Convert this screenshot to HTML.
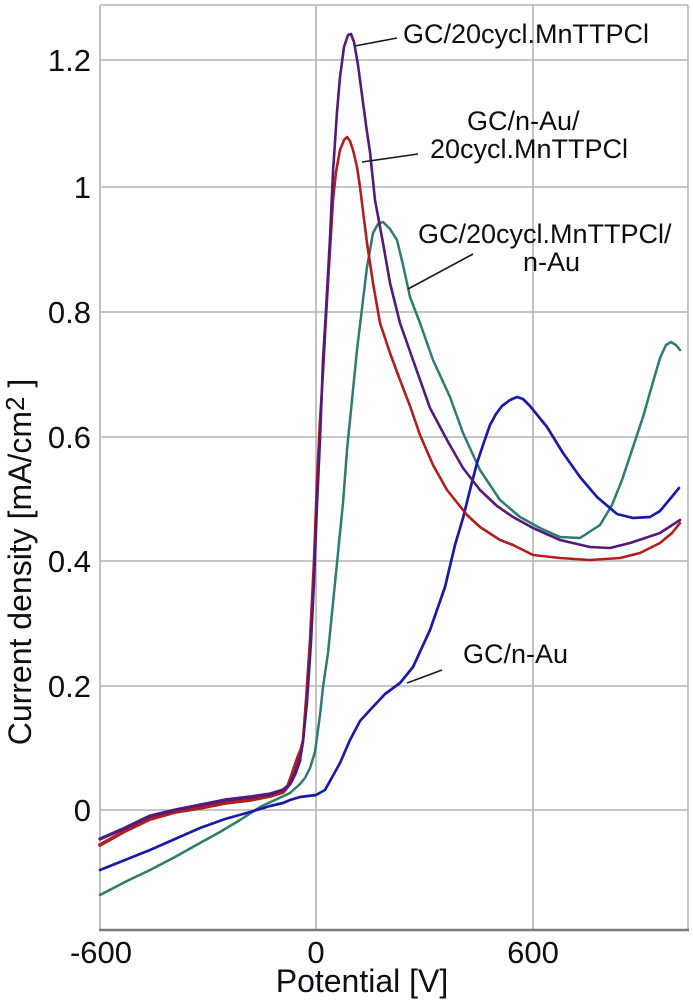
<!DOCTYPE html>
<html><head><meta charset="utf-8"><style>
html,body{margin:0;padding:0;background:#fff;}
svg{display:block;}
text{font-family:"Liberation Sans",Arial,sans-serif;fill:#0d0d14;}
</style></head><body>
<svg width="693" height="1000" viewBox="0 0 693 1000" xmlns="http://www.w3.org/2000/svg">
<rect width="693" height="1000" fill="#fff"/>
<!-- grid -->
<g stroke="#b4b4b4" stroke-width="1.6" fill="none">
<line x1="100" y1="60" x2="688" y2="60"/>
<line x1="100" y1="187" x2="688" y2="187"/>
<line x1="100" y1="312" x2="688" y2="312"/>
<line x1="100" y1="437" x2="688" y2="437"/>
<line x1="100" y1="561" x2="688" y2="561"/>
<line x1="100" y1="686" x2="688" y2="686"/>
<line x1="100" y1="810" x2="688" y2="810"/>
<line x1="316" y1="5" x2="316" y2="930"/>
<line x1="533" y1="5" x2="533" y2="930"/>
<line x1="100" y1="5" x2="688" y2="5"/>
<line x1="688" y1="5" x2="688" y2="930"/>
<line x1="100" y1="5" x2="100" y2="930"/>
</g>
<line x1="99" y1="930" x2="689" y2="930" stroke="#7a7a7a" stroke-width="2.6"/>

<!-- y tick labels -->
<g font-size="31" text-anchor="end">
<text x="91" y="71">1.2</text>
<text x="91" y="198">1</text>
<text x="91" y="323">0.8</text>
<text x="91" y="448">0.6</text>
<text x="91" y="572">0.4</text>
<text x="91" y="697">0.2</text>
<text x="91" y="821">0</text>
</g>
<!-- x tick labels -->
<g font-size="31" text-anchor="middle">
<text x="101" y="963">-600</text>
<text x="316" y="963">0</text>
<text x="533" y="963">600</text>
</g>
<text x="362" y="992" font-size="32" text-anchor="middle">Potential [V]</text>
<text transform="translate(31,562) rotate(-90)" font-size="32" text-anchor="middle">Current density [mA/cm<tspan font-size="26" dy="-7">2</tspan><tspan dy="7"> ]</tspan></text>

<!-- curves -->
<g fill="none" stroke-linejoin="round" stroke-linecap="round">
<!-- green: GC/20cycl.MnTTPCl/n-Au -->
<polyline stroke="#2e7c6c" stroke-width="2.5" points="100,895 125,882 150,870 175,857 200,843 220,832 240,820 260,807 275,800 290,793 300,784 305,778 310,768 315,752 317,737 320,715 323,687 328,653 333,603 337,563 343,503 347,450 350,420 357,350 363,300 367,267 373,233 378,224 383,222 390,229 397,240 403,265 410,297 420,323 433,360 450,397 463,433 480,470 500,500 520,517 540,528 560,537 580,538 600,525 612,505 622,480 633,447 643,417 653,382 660,358 666,345 671,342 676,345 680,350"/>
<!-- blue: GC/n-Au -->
<polyline stroke="#1a1aa6" stroke-width="2.7" points="100,870 125,860 150,850 175,839 200,828 225,819 250,812 270,806 283,803 290,800 300,797 316,795 325,790 330,781 340,763 350,740 360,721 370,710 385,694 400,683 413,667 430,630 445,587 455,545 463,518 470,490 477,463 484,442 490,425 496,414 502,406 510,400 517,397 523,399 530,406 547,427 563,453 580,477 597,497 617,514 633,518 650,517 660,511 670,499 679,488"/>
<!-- red: GC/n-Au/20cycl.MnTTPCl -->
<polyline stroke="#b01e1e" stroke-width="3.8" points="100,845 125,831 150,819 175,812 200,808 225,803 250,800 270,796 283,792 288,786 292,775 296,763 300,752"/>
<polyline stroke="#b01e1e" stroke-width="2.6" points="300,752 303,740 306,700 310,640 314,560 317,480 320,420 322,390 327,300 333,200 336,172 340,150 344,140 347,137 350,141 353,150 357,167 360,187 367,243 373,283 380,323 390,353 400,380 410,406 420,435 433,465 447,490 467,515 480,527 500,540 513,545 533,555 560,558 590,560 620,558 640,553 660,543 672,533 680,523"/>
<!-- purple: GC/20cycl.MnTTPCl -->
<polyline stroke="#531a7c" stroke-width="3.4" points="100,839 125,828 150,816 175,810 200,805 225,800 250,797 270,794 283,790 290,784 295,774 300,760"/>
<polyline stroke="#531a7c" stroke-width="2.6" points="300,760 303,742 307,702 311,642 314,582 317,505 320,440 323,360 326,310 330,238 333,172 337,112 340,77 344,47 348,35 351,34 354,42 358,65 362,95 366,125 370,152 375,200 383,243 390,283 400,323 413,360 430,408 447,440 463,468 480,490 497,506 513,517 533,528 560,540 590,547 610,548 630,543 660,533 680,520"/>
</g>

<!-- leader lines -->
<g stroke="#1a1a1a" stroke-width="1.6">
<line x1="355" y1="46" x2="397" y2="38"/>
<line x1="362" y1="162" x2="418" y2="154"/>
<line x1="408" y1="289" x2="473" y2="254"/>
<line x1="407" y1="683" x2="442" y2="670"/>
</g>

<!-- annotations -->
<g font-size="27">
<text x="403" y="43">GC/20cycl.MnTTPCl</text>
<text x="467" y="130">GC/n-Au/</text>
<text x="430" y="158">20cycl.MnTTPCl</text>
<text x="418" y="243">GC/20cycl.MnTTPCl/</text>
<text x="523" y="271">n-Au</text>
<text x="463" y="663">GC/n-Au</text>
</g>
</svg>
</body></html>
